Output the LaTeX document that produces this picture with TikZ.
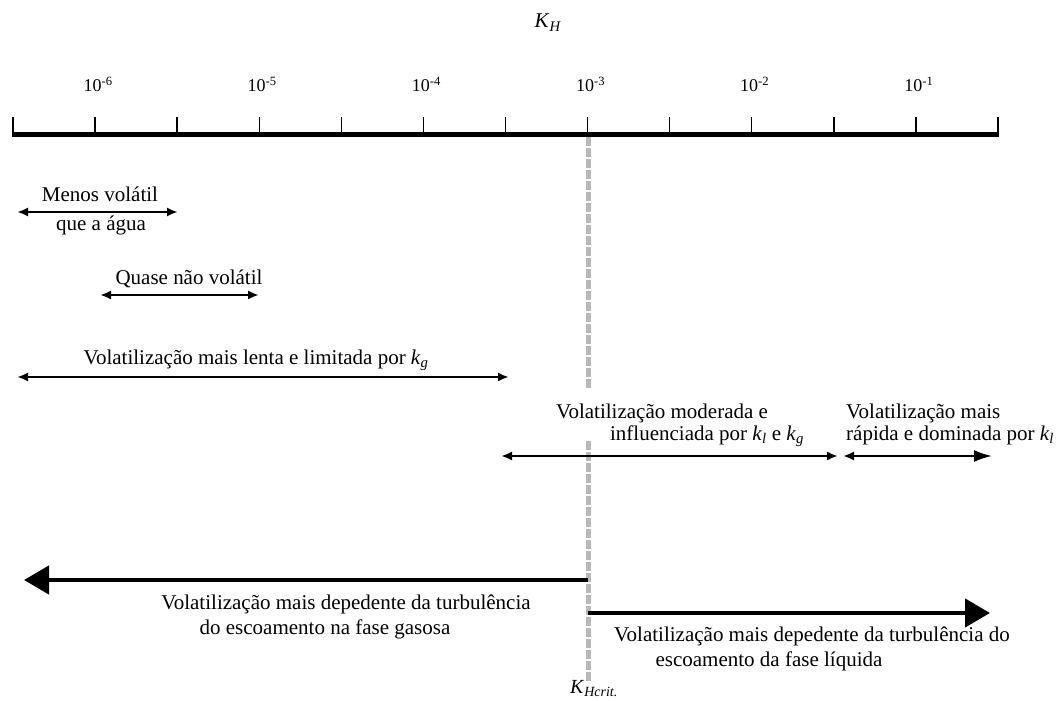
\documentclass[tikz,border=0pt]{standalone}
\usepackage{fontspec}
\setmainfont{Liberation Serif}
\usetikzlibrary{arrows.meta}
\newcommand{\ksub}[1]{\textit{k}\textsubscript{\textit{#1}}}
\begin{document}
\begin{tikzpicture}[x=1pt,y=-1pt,
  txt/.style={inner sep=0pt, font=\fontsize{21}{25}\selectfont, anchor=base},
  txtw/.style={inner sep=0pt, font=\fontsize{21}{25}\selectfont, anchor=base west},
  ticklbl/.style={inner sep=0pt, font=\fontsize{18}{20}\selectfont, anchor=base},
  thinarrow/.style={line width=2.2pt, {Latex[length=11pt,width=9pt]}-{Latex[length=11pt,width=9pt]}},
  bigarrow/.style={line width=4.5pt, -{Triangle[length=25pt,width=28pt]}},
  critline/.style={line width=5pt, color=black!28, dash pattern=on 9pt off 2pt},
  axisline/.style={line width=5pt},
  tickline/.style={line width=1.4pt},
]
\useasboundingbox (0,0) rectangle (1058,701);
% axis
\coordinate (axL) at (12,134);
\coordinate (axR) at (999,134);
\draw[axisline] (axL) -- (axR);
\foreach \i in {0,...,12}
  \draw[tickline] ({13+82.08*\i},135) -- ({13+82.08*\i},117);
\foreach \i/\e in {1/-6,3/-5,5/-4,7/-3,9/-2,11/-1}
  \node[ticklbl] (t\i) at ({13+82.08*\i+3},92) {10\textsuperscript{\e}};
\node[txt] (KH) at (548,28) {\textit{K}\textsubscript{\textit{H}}};
% critical line
\coordinate (c1) at (588,137);
\coordinate (c2) at (588,388);
\coordinate (c3) at (588,441);
\coordinate (c4) at (588,682);
\draw[critline] (c1) -- (c2);
\draw[critline] (c3) -- (c4);
\node[txt, font=\fontsize{20}{24}\selectfont] (Kc) at (594,693) {\textit{K}\textsubscript{\textit{Hcrit.}}};
% arrow 1
\coordinate (a1L) at (17,212);
\coordinate (a1R) at (178,212);
\draw[thinarrow] (a1L) -- (a1R);
\node[txt] (m1) at (100,201) {Menos volátil};
\node[txt] (m2) at (101,230) {que a água};
% arrow 2
\coordinate (a2L) at (100,295);
\coordinate (a2R) at (259,295);
\draw[thinarrow] (a2L) -- (a2R);
\node[txt] (q1) at (189,284) {Quase não volátil};
% arrow 3
\coordinate (a3L) at (17,377);
\coordinate (a3R) at (509,377);
\draw[thinarrow] (a3L) -- (a3R);
\node[txt] (v1) at (256,364) {Volatilização mais lenta e limitada por \ksub{g}};
% arrow 4
\coordinate (a4L) at (501,456);
\coordinate (a4R) at (838,456);
\draw[thinarrow] (a4L) -- (a4R);
\node[txt] (mo1) at (662,418) {Volatilização moderada e};
\node[txt] (mo2) at (707,440) {influenciada por \ksub{l} e \ksub{g}};
% arrow 5
\coordinate (a5L) at (843,456);
\coordinate (a5R) at (992,456);
\draw[line width=2.2pt, {Latex[length=11pt,width=9pt]}-{Latex[length=18pt,width=12pt]}] (a5L) -- (a5R);
\node[txtw] (r1) at (846,418) {Volatilização mais};
\node[txtw] (r2) at (846,440) {rápida e dominada por \ksub{l}};
% big left arrow
\coordinate (bL0) at (588,580);
\coordinate (bL1) at (24,580);
\draw[bigarrow] (bL0) -- (bL1);
\node[txt] (g1) at (346,609) {Volatilização mais depedente da turbulência};
\node[txt] (g2) at (325,634) {do escoamento na fase gasosa};
% big right arrow
\coordinate (bR0) at (588,613);
\coordinate (bR1) at (990,613);
\draw[bigarrow] (bR0) -- (bR1);
\node[txt] (l1) at (812,641) {Volatilização mais depedente da turbulência do};
\node[txt] (l2) at (769,666) {escoamento da fase líquida};
\end{tikzpicture}
\end{document}
